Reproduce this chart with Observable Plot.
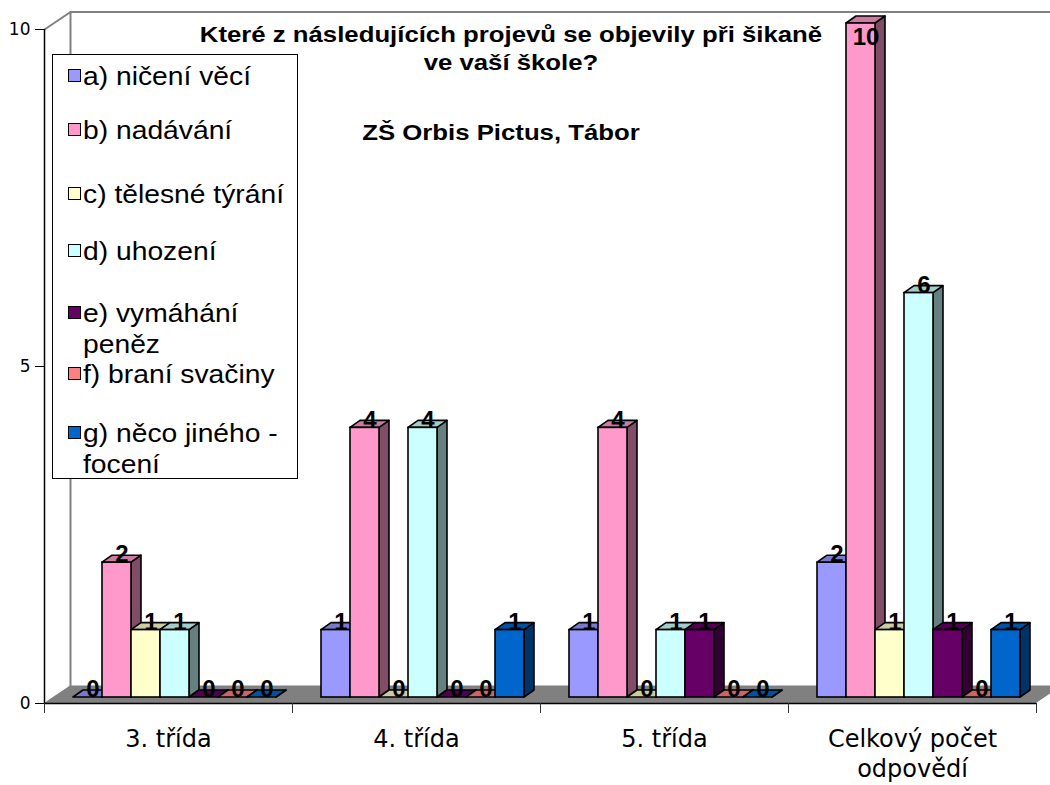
<!DOCTYPE html>
<html><head><meta charset="utf-8">
<script src="https://cdn.jsdelivr.net/npm/d3@7"></script>
<script src="https://cdn.jsdelivr.net/npm/@observablehq/plot@0.6"></script>
<style>
html,body{margin:0;padding:0;background:#fff;overflow:hidden}
#wrap{position:relative;width:1050px;height:785px}
#chart{position:absolute;left:0;top:0}
.title{position:absolute;font-family:"Liberation Sans",Arial,sans-serif;font-weight:bold;font-size:22px;white-space:nowrap;color:#000}
#legend{position:absolute;left:52px;top:54px;width:246px;height:425px;border:1px solid #000;background:#fff;box-sizing:border-box}
.item{position:absolute;left:30px;font-family:"Liberation Sans",Arial,sans-serif;font-size:25px;line-height:31px;white-space:pre;transform-origin:left center;transform:scaleX(1.13);color:#000}
.sw{position:absolute;left:15px;width:11px;height:11px;border:1.5px solid #000}
</style></head><body>
<div id="wrap"><div id="chart"></div><div id="legend"></div><div id="titles"></div></div>
<script>
// ---- data ----
const groups = ["3. třída", "4. třída", "5. třída", "Celkový počet odpovědí"];
const groupLabels = ["3. třída", "4. třída", "5. třída", "Celkový počet\nodpovědí"];
const series = ["a) ničení věcí", "b) nadávání", "c) tělesné týrání", "d) uhození", "e) vymáhání peněz", "f) braní svačiny", "g) něco jiného - focení"];
const legendLabels = ["a) ničení věcí", "b) nadávání", "c) tělesné týrání", "d) uhození", "e) vymáhání\npeněz", "f) braní svačiny", "g) něco jiného -\nfocení"];
const colors = ["#9999FF", "#FF99CC", "#FFFFCC", "#CCFFFF", "#660066", "#FF8080", "#0066CC"];
const topColors = ["#7A7ACC", "#CC7AA3", "#CCCCA3", "#A3CCCC", "#520052", "#CC6666", "#0052A3"];
const sideColors = ["#4D4D80", "#804D66", "#808066", "#668080", "#330033", "#804040", "#003366"];
const valA = [0, 1, 1, 2];
const valB = [2, 4, 4, 10];
const valC = [1, 0, 0, 1];
const valD = [1, 4, 1, 6];
const valE = [0, 0, 1, 1];
const valF = [0, 0, 0, 0];
const valG = [0, 1, 0, 1];
const values = [valA, valB, valC, valD, valE, valF, valG];
const yTicks = [0, 5, 10];
const titleLines = ["Které z následujících projevů se objevily při šikaně", "ve vaší škole?"];
const subtitle = "ZŠ Orbis Pictus, Tábor";

// ---- layout ----
const W = 1050, H = 785, mL = 44, mR = 14, mT = 29, mB = 82;
const yMax = 10;
const pxX = (W - mL - mR) / groups.length;
const pxY = (H - mT - mB) / yMax;
const barW = 29 / pxX, barLead = barW;
const bdx = 10 / pxX, bdy = 7 / pxY;       // bar depth
const fdx = 26 / pxX, fdy = 17.5 / pxY;    // floor / wall depth
const barShift = -6;
const labelCap = yMax - 22 / pxY;
const font = "DejaVu Sans";

const bars = [];
series.forEach((s, si) => groups.forEach((g, gi) => {
  const x1 = gi + barLead + si * barW;
  bars.push({key: gi + "-" + si, g, s, v: values[si][gi], x1, x2: x1 + barW,
    fill: colors[si], top: topColors[si], side: sideColors[si]});
}));
const sidePts = bars.flatMap(b => [
  {key: b.key, x: b.x2, y1: 0, y2: b.v, fill: b.side},
  {key: b.key, x: b.x2 + bdx, y1: bdy, y2: b.v + bdy, fill: b.side}]);
const topPts = bars.flatMap(b => [
  {key: b.key, y: b.v, x1: b.x1, x2: b.x2, fill: b.top},
  {key: b.key, y: b.v + bdy, x1: b.x1 + bdx, x2: b.x2 + bdx, fill: b.top}]);
const floor = [{y: 0, x1: 0, x2: groups.length}, {y: fdy, x1: fdx, x2: groups.length + fdx}];
const wallTop = [{x: 0, y: yMax}, {x: fdx, y: yMax + fdy}, {x: groups.length + fdx, y: yMax + fdy}];
const wallBack = [{x: fdx, y: fdy}, {x: fdx, y: yMax + fdy}];

const chart = Plot.plot({
  width: W, height: H, marginLeft: mL, marginRight: mR, marginTop: mT, marginBottom: mB,
  style: {fontFamily: font, background: "white"},
  x: {type: "linear", domain: [0, groups.length], axis: null},
  y: {type: "linear", domain: [0, yMax], axis: null},
  marks: [
    Plot.areaX(floor, {y: "y", x1: "x1", x2: "x2", fill: "#808080", curve: "linear"}),
    Plot.line(wallTop, {x: "x", y: "y", stroke: "#808080", strokeWidth: 2}),
    Plot.line(wallBack, {x: "x", y: "y", stroke: "#808080", strokeWidth: 2}),
    Plot.ruleX([0], {stroke: "#000", strokeWidth: 1.5}),
    Plot.ruleY([0], {stroke: "#000", strokeWidth: 1.5}),
    Plot.axisY({ticks: yTicks, tickSize: 9, tickFormat: () => "", stroke: "#000"}),
    Plot.text(yTicks, {y: d => d, text: d => String(d), frameAnchor: "left", dx: -14, textAnchor: "end", fontSize: 17, fill: "#000"}),
    Plot.axisX({ticks: d3.range(groups.length + 1), tickSize: 10, tickFormat: () => "", stroke: "#333"}),
    Plot.text(groupLabels.map((l, i) => ({x: i + 0.5, l})), {x: "x", text: "l", frameAnchor: "bottom", dy: 22, lineAnchor: "top", lineHeight: 1.25, fontSize: 24, fill: "#000"}),
    Plot.areaY(sidePts, {x: "x", y1: "y1", y2: "y2", z: "key", fill: "fill", stroke: "#000", strokeWidth: 1.6, curve: "linear", dy: barShift}),
    Plot.areaX(topPts, {y: "y", x1: "x1", x2: "x2", z: "key", fill: "fill", stroke: "#000", strokeWidth: 1.6, curve: "linear", dy: barShift}),
    Plot.rect(bars, {x1: "x1", x2: "x2", y1: 0, y2: "v", fill: "fill", stroke: "#000", strokeWidth: 1.6, dy: barShift}),
    Plot.text(bars, {x: d => (d.x1 + d.x2) / 2 + bdx / 2, y: d => Math.min(d.v, labelCap), text: d => String(d.v), dy: barShift - 8, fontSize: 24, fontWeight: "bold", fontFamily: "Liberation Sans", fill: "#000"})
  ]
});
document.getElementById("chart").appendChild(chart);

// ---- titles ----
const titles = document.getElementById("titles");
const tpos = [[511, 35, titleLines[0]], [511, 63, titleLines[1]], [501, 133, subtitle]];
tpos.forEach(([x, y, t]) => {
  const d = document.createElement("div");
  d.className = "title"; d.textContent = t;
  d.style.left = x + "px"; d.style.top = y + "px";
  d.style.transform = "translate(-50%,-50%) scaleX(1.17)";
  titles.appendChild(d);
});

// ---- legend ----
const legend = document.getElementById("legend");
const rowY = [21, 75, 139, 196, 258, 319, 378];
legendLabels.forEach((l, i) => {
  const sw = document.createElement("div");
  sw.className = "sw"; sw.style.background = colors[i];
  sw.style.top = (rowY[i] - 7) + "px";
  legend.appendChild(sw);
  const t = document.createElement("div");
  t.className = "item"; t.textContent = l;
  t.style.top = (rowY[i] - 15.5) + "px";
  legend.appendChild(t);
});
</script>
</body></html>
